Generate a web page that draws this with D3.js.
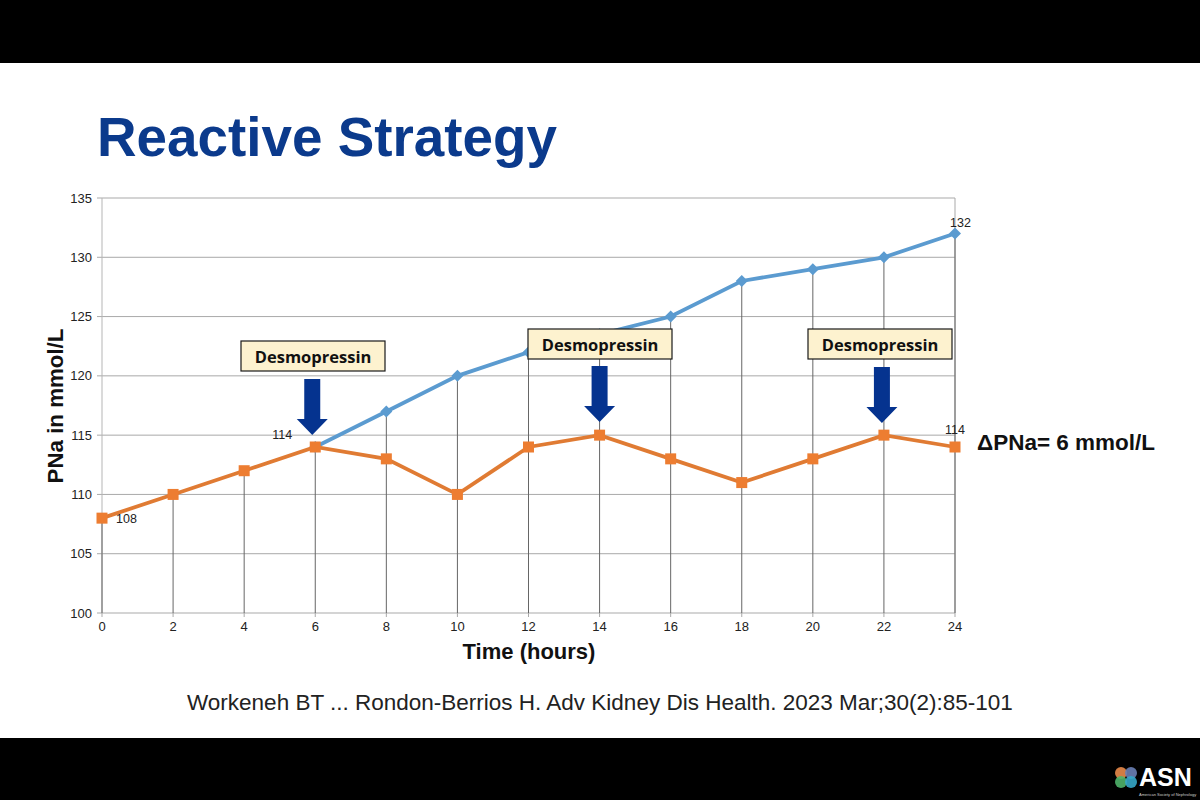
<!DOCTYPE html>
<html><head><meta charset="utf-8">
<script src="https://cdn.jsdelivr.net/npm/d3@7"></script>
<style>html,body{margin:0;padding:0;background:#000;overflow:hidden}svg{display:block}</style>
</head><body><svg id="c" width="1200" height="800"></svg>
<script>
const hours=[0,2,4,6,8,10,12,14,16,18,20,22,24];
const reactive=[108,110,112,114,113,110,114,115,113,111,113,115,114];
const blueHours=[6,8,10,12,14,16,18,20,22,24];
const uncorrected=[114,117,120,122,123.5,125,128,129,130,132];
const yTicks=[100,105,110,115,120,125,130,135];
const labels=[{h:0,v:108,s:"108",dx:14,dy:5,a:"start"},{h:6,v:114,s:"114",dx:-23,dy:-8,a:"end"},{h:24,v:132,s:"132",dx:-5,dy:-7,a:"start"},{h:24,v:114,s:"114",dx:-10,dy:-13,a:"start"}];
const boxes=[{h:6,cx:313,y:341,arrowTop:379},{h:14,cx:600,y:329,arrowTop:366},{h:22,cx:880,y:329,arrowTop:367}];
const sans="Liberation Sans, Arial, sans-serif";
const svg=d3.select("#c");
svg.append("rect").attr("x",0).attr("y",63).attr("width",1200).attr("height",675).attr("fill","#fff");
svg.append("text").attr("x",97).attr("y",156).attr("font-family",sans).attr("font-weight",700).attr("font-size",54.8).attr("fill","#0b3a8c").text("Reactive Strategy");
const x=d3.scaleLinear().domain([0,24]).range([102,955]);
const y=d3.scaleLinear().domain([100,135]).range([613,198]);
const g=svg.append("g");
g.selectAll(".grid").data(yTicks).join("line").attr("x1",x(0)-5).attr("x2",x(24)).attr("y1",d=>y(d)).attr("y2",d=>y(d)).attr("stroke","#a9a9a9").attr("stroke-width",1);
g.append("line").attr("x1",x(24)).attr("x2",x(24)).attr("y1",y(135)).attr("y2",y(100)).attr("stroke","#a9a9a9");
g.append("line").attr("x1",x(0)).attr("x2",x(0)).attr("y1",y(135)).attr("y2",y(100)).attr("stroke","#b5b5b5");
const dropTop=h=>{const i=blueHours.indexOf(h);const r=reactive[hours.indexOf(h)];return i>=0?Math.max(uncorrected[i],r):r;};
g.selectAll(".drop").data(hours).join("line").attr("x1",d=>x(d)).attr("x2",d=>x(d)).attr("y1",d=>y(dropTop(d))).attr("y2",y(100)).attr("stroke","#666").attr("stroke-width",1);
g.selectAll(".xt").data(hours).join("line").attr("x1",d=>x(d)).attr("x2",d=>x(d)).attr("y1",y(100)).attr("y2",y(100)+4).attr("stroke","#a9a9a9");
g.selectAll(".yl").data(yTicks).join("text").attr("x",92).attr("y",d=>y(d)+4.5).attr("text-anchor","end").attr("font-family",sans).attr("font-size",13).attr("fill","#222").text(d=>d);
g.selectAll(".xl").data(hours).join("text").attr("x",d=>x(d)).attr("y",630.5).attr("text-anchor","middle").attr("font-family",sans).attr("font-size",13).attr("fill","#222").text(d=>d);
const lineB=d3.line().x((d,i)=>x(blueHours[i])).y(d=>y(d));
const lineO=d3.line().x((d,i)=>x(hours[i])).y(d=>y(d));
g.append("path").attr("d",lineB(uncorrected)).attr("fill","none").attr("stroke","#5b9bd0").attr("stroke-width",3.8);
g.selectAll(".bm").data(uncorrected).join("path").attr("d",d3.symbol(d3.symbolSquare,72)()).attr("transform",(d,i)=>`translate(${x(blueHours[i])},${y(d)}) rotate(45)`).attr("fill","#5b9bd0");
g.append("path").attr("d",lineO(reactive)).attr("fill","none").attr("stroke","#e07b33").attr("stroke-width",3.8);
g.selectAll(".om").data(reactive).join("rect").attr("x",(d,i)=>x(hours[i])-5.5).attr("y",d=>y(d)-5.5).attr("width",11).attr("height",11).attr("fill","#ed7d31");
g.selectAll(".dl").data(labels).join("text").attr("x",d=>x(d.h)+d.dx).attr("y",d=>y(d.v)+d.dy).attr("text-anchor",d=>d.a).attr("font-family",sans).attr("font-size",12.5).attr("fill","#222").text(d=>d.s);
boxes.forEach(b=>{
 svg.append("rect").attr("x",b.cx-72).attr("y",b.y).attr("width",144).attr("height",30).attr("fill","#fdf2cf").attr("stroke","#1a1a1a").attr("stroke-width",1.2);
 svg.append("text").attr("x",b.cx).attr("y",b.y+22).attr("text-anchor","middle").attr("font-family","'Open Sans', 'Noto Sans', sans-serif").attr("font-weight",700).attr("font-size",16.5).attr("fill","#111").text("Desmopressin");
 const c=x(b.h)-(b.h===6?3:0)+(b.h===22?-2:0), t=b.arrowTop, e=t+56;
 svg.append("path").attr("d",`M${c-8},${t}H${c+8}V${e-16}H${c+15.5}L${c},${e}L${c-15.5},${e-16}H${c-8}Z`).attr("fill","#05338f");
});
svg.append("text").attr("transform","translate(63,406) rotate(-90)").attr("text-anchor","middle").attr("font-family",sans).attr("font-weight",700).attr("font-size",22.3).attr("fill","#111").text("PNa in mmol/L");
svg.append("text").attr("x",529).attr("y",659).attr("text-anchor","middle").attr("font-family",sans).attr("font-weight",700).attr("font-size",22).attr("fill","#111").text("Time (hours)");
svg.append("text").attr("x",977).attr("y",450).attr("font-family",sans).attr("font-weight",700).attr("font-size",22.5).attr("fill","#111").text("ΔPNa= 6 mmol/L");
svg.append("text").attr("x",187).attr("y",710).attr("font-family",sans).attr("font-size",22.5).attr("fill","#222").text("Workeneh BT ... Rondon-Berrios H. Adv Kidney Dis Health. 2023 Mar;30(2):85-101");
const logo=svg.append("g");
[[1121,773,"#e8894a"],[1131,773,"#6a7fb5"],[1121,782,"#4fb36a"],[1131,782,"#35a7c9"]].forEach(d=>logo.append("circle").attr("cx",d[0]).attr("cy",d[1]).attr("r",6).attr("fill",d[2]).attr("opacity",.9));
svg.append("text").attr("x",1139).attr("y",786).attr("font-family",sans).attr("font-weight",700).attr("font-size",25).attr("fill","#fff").text("ASN");
svg.append("text").attr("x",1139).attr("y",796).attr("font-family",sans).attr("font-size",4).attr("fill","#ccc").text("American Society of Nephrology");
</script></body></html>
